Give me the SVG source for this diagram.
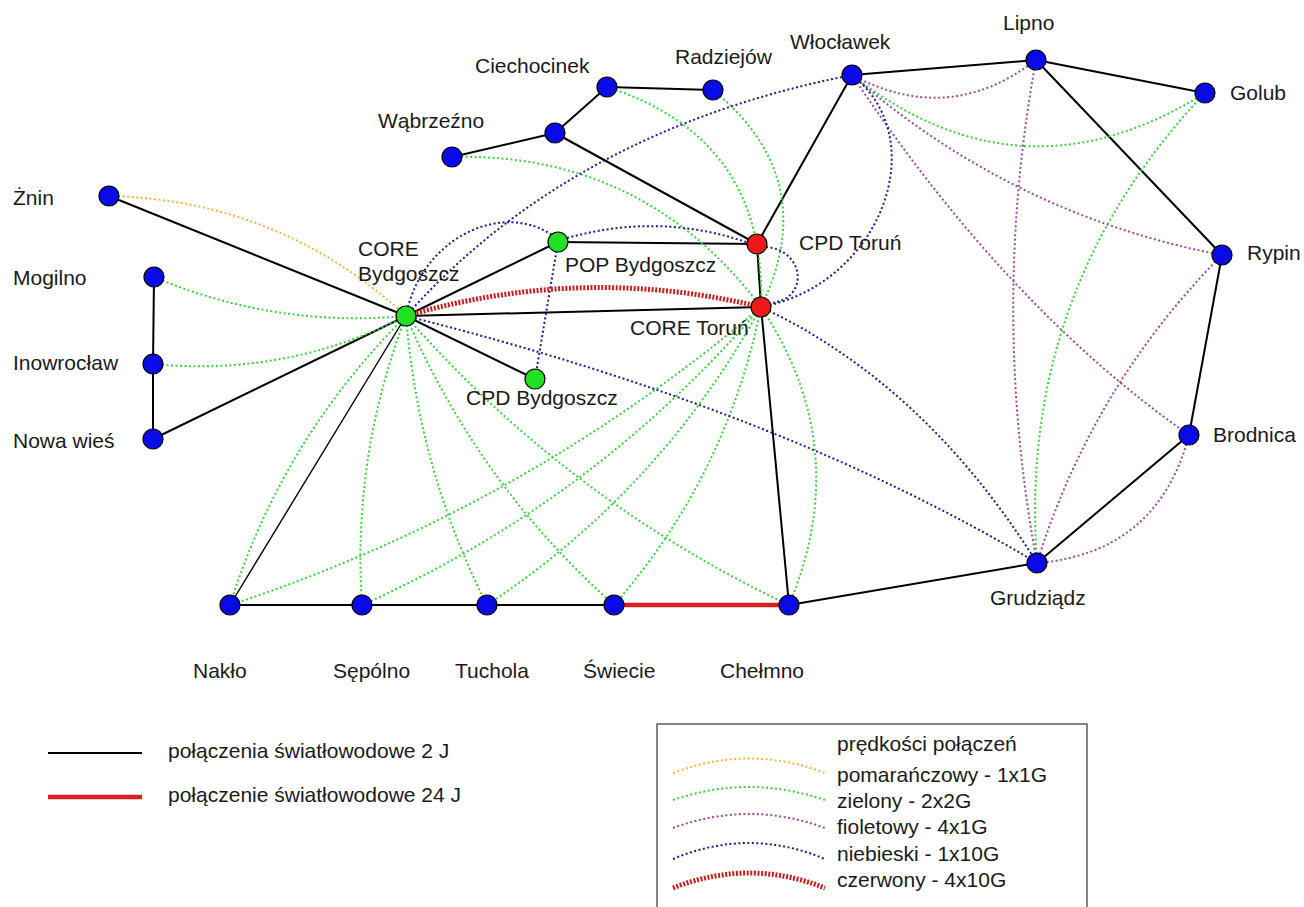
<svg xmlns="http://www.w3.org/2000/svg" width="1304" height="907" viewBox="0 0 1304 907">
<style>
text{font-family:"Liberation Sans",Arial,sans-serif;font-size:21px;fill:#1a1a1a}
.k{stroke:#000;stroke-width:2;fill:none}
.kt{stroke:#000;stroke-width:1.4;fill:none}
.rs{stroke:#d42020;stroke-width:4.5;fill:none}
.g{stroke:#3cd03c;stroke-width:2;stroke-dasharray:2 2.5;fill:none}
.o{stroke:#f0b440;stroke-width:2;stroke-dasharray:2 2.5;fill:none}
.p{stroke:#9a4aa0;stroke-width:2;stroke-dasharray:2 2.5;fill:none}
.b{stroke:#1c1c8c;stroke-width:2;stroke-dasharray:2 2.5;fill:none}
.r{stroke:#c81e1e;stroke-width:5;stroke-dasharray:2 1.6;fill:none}
.nb{fill:#0a0ae8;stroke:#000;stroke-width:1.2}
.ng{fill:#22e022;stroke:#000;stroke-width:1.2}
.nr{fill:#ee1a1a;stroke:#000;stroke-width:1.2}
</style>
<rect width="1304" height="907" fill="#fff"/>
<g id="connectors">
<line class="k" x1="109" y1="196" x2="406" y2="316"/>
<line class="k" x1="154" y1="277" x2="153" y2="364"/>
<line class="k" x1="153" y1="364" x2="153" y2="439"/>
<line class="k" x1="153" y1="439" x2="406" y2="316"/>
<line class="k" x1="406" y1="316" x2="558" y2="242"/>
<line class="k" x1="406" y1="316" x2="761" y2="307"/>
<line class="k" x1="406" y1="316" x2="535" y2="379"/>
<line class="kt" x1="406" y1="316" x2="230" y2="605"/>
<line class="k" x1="558" y1="242" x2="757" y2="244"/>
<line class="k" x1="452" y1="157" x2="555" y2="133"/>
<line class="k" x1="555" y1="133" x2="607" y2="87"/>
<line class="k" x1="607" y1="87" x2="713" y2="90"/>
<line class="k" x1="555" y1="133" x2="757" y2="244"/>
<line class="k" x1="757" y1="244" x2="852" y2="75"/>
<line class="k" x1="757" y1="244" x2="761" y2="307"/>
<line class="k" x1="852" y1="75" x2="1036" y2="60"/>
<line class="k" x1="1036" y1="60" x2="1205" y2="93"/>
<line class="k" x1="1036" y1="60" x2="1222" y2="255"/>
<line class="k" x1="1222" y1="255" x2="1189" y2="435"/>
<line class="k" x1="1189" y1="435" x2="1037" y2="563"/>
<line class="k" x1="1037" y1="563" x2="789" y2="605"/>
<line class="k" x1="761" y1="307" x2="789" y2="605"/>
<line class="k" x1="230" y1="605" x2="614" y2="605"/>
<line class="rs" x1="614" y1="605" x2="789" y2="605"/>
<path class="o" d="M109,196 Q280,200 406,316"/>
<path class="g" d="M154,277 Q275,328 406,316"/>
<path class="g" d="M153,364 Q287,377 406,316"/>
<path class="g" d="M406,316 Q282,439 230,605"/>
<path class="g" d="M406,316 Q352,456 362,605"/>
<path class="g" d="M406,316 Q418,469 487,605"/>
<path class="g" d="M406,316 Q478,484 614,605"/>
<path class="g" d="M406,316 Q567,500 789,605"/>
<path class="g" d="M761,307 Q525,508 230,605"/>
<path class="g" d="M761,307 Q595,501 362,605"/>
<path class="g" d="M761,307 Q661,490 487,605"/>
<path class="g" d="M761,307 Q727,476 614,605"/>
<path class="g" d="M761,307 Q855,448 789,605"/>
<path class="g" d="M452,157 Q644,152 761,307"/>
<path class="g" d="M607,87 Q767,138 761,307"/>
<path class="g" d="M713,90 Q823,180 761,307"/>
<path class="g" d="M852,75 Q1022,208 1205,93"/>
<path class="g" d="M1205,93 Q1017,291 1037,563"/>
<path class="p" d="M852,75 Q949,127 1036,60"/>
<path class="p" d="M852,75 Q1012,215 1222,255"/>
<path class="p" d="M852,75 Q1007,308 1189,435"/>
<path class="p" d="M1036,60 Q990,310 1037,563"/>
<path class="p" d="M1222,255 Q1092,386 1037,563"/>
<path class="p" d="M1189,435 Q1158,553 1037,563"/>
<path class="b" d="M406,316 Q571,130 852,75"/>
<path class="b" d="M406,316 C420,240 500,200 552,235"/>
<path class="b" d="M567,238 Q660,212 749,243"/>
<path class="b" d="M766,247 C805,250 810,300 770,303"/>
<path class="b" d="M761,307 C880,285 935,140 852,75"/>
<path class="b" d="M761,307 Q925,384 1037,563"/>
<path class="b" d="M406,316 Q782,410 1037,563"/>
<path class="b" d="M558,242 L535,379"/>
<path class="r" d="M406,316 Q583,264 761,307"/>
</g>
<g id="n-znin"><circle class="nb" cx="109" cy="196" r="10"/><text x="13" y="205">Żnin</text></g>
<g id="n-mogilno"><circle class="nb" cx="154" cy="277" r="10"/><text x="13" y="285">Mogilno</text></g>
<g id="n-inowroclaw"><circle class="nb" cx="153" cy="364" r="10"/><text x="13" y="370">Inowrocław</text></g>
<g id="n-nowawies"><circle class="nb" cx="153" cy="439" r="10"/><text x="13" y="448">Nowa wieś</text></g>
<g id="n-corebyd"><circle class="ng" cx="406" cy="316" r="10"/><text x="358" y="256">CORE</text><text x="358" y="281">Bydgoszcz</text></g>
<g id="n-popbyd"><circle class="ng" cx="558" cy="242" r="10"/><text x="565" y="272">POP Bydgoszcz</text></g>
<g id="n-cpdbyd"><circle class="ng" cx="535" cy="379" r="10"/><text x="466" y="405">CPD Bydgoszcz</text></g>
<g id="n-cpdtor"><circle class="nr" cx="757" cy="244" r="10"/><text x="799" y="250">CPD Toruń</text></g>
<g id="n-coretor"><circle class="nr" cx="761" cy="307" r="10"/><text x="630" y="335">CORE Toruń</text></g>
<g id="n-wabrzezno"><circle class="nb" cx="452" cy="157" r="10"/><text x="378" y="128">Wąbrzeźno</text></g>
<g id="n-node555"><circle class="nb" cx="555" cy="133" r="10"/></g>
<g id="n-ciechocinek"><circle class="nb" cx="607" cy="87" r="10"/><text x="475" y="73">Ciechocinek</text></g>
<g id="n-radziejow"><circle class="nb" cx="713" cy="90" r="10"/><text x="675" y="64">Radziejów</text></g>
<g id="n-wloclawek"><circle class="nb" cx="852" cy="75" r="10"/><text x="790" y="49">Włocławek</text></g>
<g id="n-lipno"><circle class="nb" cx="1036" cy="60" r="10"/><text x="1003" y="30">Lipno</text></g>
<g id="n-golub"><circle class="nb" cx="1205" cy="93" r="10"/><text x="1230" y="100">Golub</text></g>
<g id="n-rypin"><circle class="nb" cx="1222" cy="255" r="10"/><text x="1247" y="260">Rypin</text></g>
<g id="n-brodnica"><circle class="nb" cx="1189" cy="435" r="10"/><text x="1213" y="442">Brodnica</text></g>
<g id="n-grudziadz"><circle class="nb" cx="1037" cy="563" r="10"/><text x="990" y="605">Grudziądz</text></g>
<g id="n-naklo"><circle class="nb" cx="230" cy="605" r="10"/><text x="193" y="678">Nakło</text></g>
<g id="n-sepolno"><circle class="nb" cx="362" cy="605" r="10"/><text x="333" y="678">Sępólno</text></g>
<g id="n-tuchola"><circle class="nb" cx="487" cy="605" r="10"/><text x="455" y="678">Tuchola</text></g>
<g id="n-swiecie"><circle class="nb" cx="614" cy="605" r="10"/><text x="583" y="678">Świecie</text></g>
<g id="n-chelmno"><circle class="nb" cx="789" cy="605" r="10"/><text x="720" y="678">Chełmno</text></g>
<g id="legend-lines">
<line class="k" x1="48" y1="753" x2="142" y2="753"/>
<line class="rs" x1="48" y1="797" x2="142" y2="797"/>
<text x="168" y="758">połączenia światłowodowe 2 J</text>
<text x="168" y="802">połączenie światłowodowe 24 J</text>
</g>
<g id="legend-speeds">
<rect x="657" y="724" width="430" height="200" fill="none" stroke="#333" stroke-width="1.2"/>
<path class="o" d="M673,773 Q749,744 825,773"/>
<path class="g" d="M673,800 Q749,774 825,800"/>
<path class="p" d="M673,828 Q749,800 825,828"/>
<path class="b" d="M673,859 Q749,827 825,859"/>
<path class="r" d="M673,888 Q749,858 825,888"/>
<text x="837" y="751">prędkości połączeń</text>
<text x="837" y="782">pomarańczowy - 1x1G</text>
<text x="837" y="808">zielony - 2x2G</text>
<text x="837" y="834">fioletowy - 4x1G</text>
<text x="837" y="861">niebieski - 1x10G</text>
<text x="837" y="887">czerwony - 4x10G</text>
</g>
</svg>
